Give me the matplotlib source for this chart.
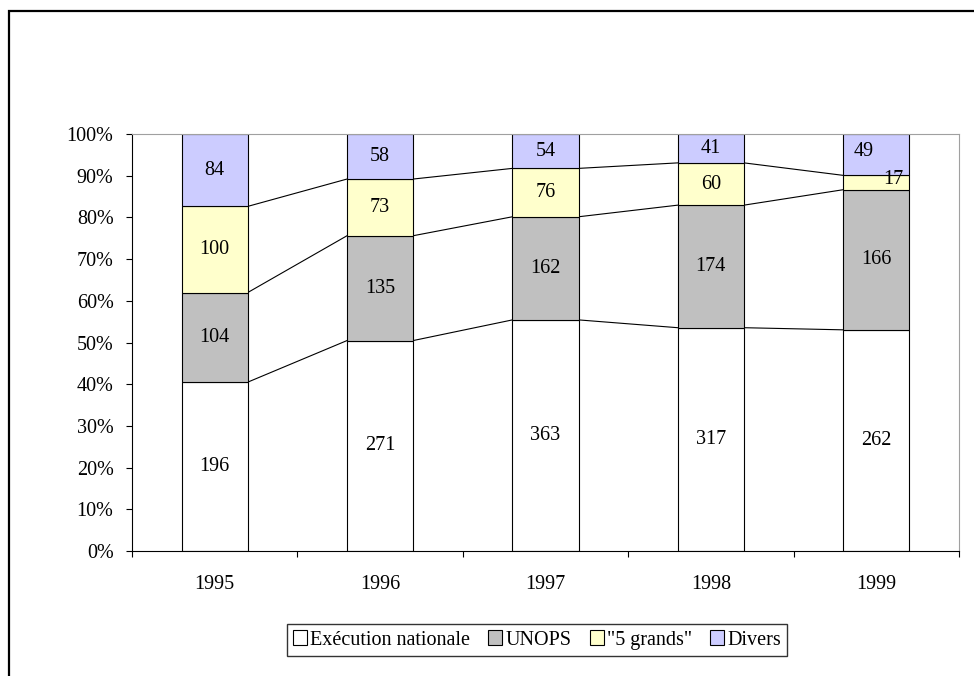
import matplotlib.pyplot as plt
import numpy as np
from matplotlib.patches import Rectangle

years = ["1995", "1996", "1997", "1998", "1999"]
series_names = ["Exécution nationale", "UNOPS", '"5 grands"', "Divers"]
execution = [196, 271, 363, 317, 262]
unops = [104, 135, 162, 174, 166]
cinq_grands = [100, 73, 76, 60, 17]
divers = [84, 58, 54, 41, 49]
colors = ["#FFFFFF", "#C0C0C0", "#FFFFCC", "#CCCCFF"]

plt.rcParams['font.family'] = ['Liberation Serif', 'DejaVu Serif']
FS = 14.5


def main():
    data = np.array([execution, unops, cinq_grands, divers], dtype=float)
    pct = data / data.sum(axis=0) * 100
    cum = np.cumsum(pct, axis=0)
    x = np.arange(len(years))
    width = 0.4

    fig = plt.figure(figsize=(9.74, 6.76), dpi=100)
    # outer chart frame (cropped at right and bottom)
    fig.patches.append(Rectangle((9 / 974, -0.1), 1.2, 1 - 11 / 676 + 0.1,
                                 transform=fig.transFigure, fill=False,
                                 edgecolor="black", linewidth=1.6))
    ax = fig.add_axes([132 / 974, 1 - 551 / 676, (959 - 132) / 974, (551 - 134) / 676])

    handles = []
    for i in range(4):
        bottom = cum[i] - pct[i]
        h = ax.bar(x, pct[i], width, bottom=bottom, color=colors[i],
                   edgecolor="black", linewidth=0.8, label=series_names[i], zorder=2)
        handles.append(h)
        for j in range(len(years)):
            dx, dy = 0, 0
            # labels moved by hand in the 1999 bar
            if j == 4 and i == 3:
                dx, dy = -9, 2
            if j == 4 and i == 2:
                dx, dy = 12, 2.5
            ax.annotate(str(int(data[i, j])), (x[j], bottom[j] + pct[i, j] / 2),
                        xytext=(dx, dy), textcoords="offset points",
                        ha="center", va="center", fontsize=FS, zorder=3)

    # series lines between bars
    for i in range(3):
        for j in range(len(years) - 1):
            ax.plot([x[j] + width / 2, x[j + 1] - width / 2], [cum[i, j], cum[i, j + 1]],
                    color="black", linewidth=0.8, zorder=1)

    ax.set_xlim(-0.5, len(years) - 0.5)
    ax.set_ylim(0, 100)
    ax.set_yticks(np.arange(0, 101, 10))
    ax.set_yticklabels([f"{v}%" for v in range(0, 101, 10)], fontsize=FS)
    ax.set_xticks(x)
    ax.set_xticklabels(years, fontsize=FS)
    ax.set_xticks(np.arange(-0.5, len(years), 1), minor=True)
    ax.tick_params(axis="x", which="major", length=0, pad=17)
    ax.tick_params(axis="x", which="minor", length=4.3, direction="out", width=0.8)
    ax.tick_params(axis="y", length=4.3, direction="out", width=0.8, pad=9)

    for side in ["top", "right"]:
        ax.spines[side].set_color("#A0A0A0")
        ax.spines[side].set_linewidth(0.8)
    for side in ["left", "bottom"]:
        ax.spines[side].set_color("black")
        ax.spines[side].set_linewidth(0.8)

    fig.legend(handles=handles, loc="center", bbox_to_anchor=(537 / 974, 1 - 640 / 676),
               ncol=4, fontsize=FS, frameon=True, fancybox=False, edgecolor="black",
               handlelength=0.7, handleheight=0.7, handletextpad=0.15,
               columnspacing=0.9, borderpad=0.3, borderaxespad=0)

    fig.savefig("out.png", dpi=100)


if __name__ == "__main__":
    main()
